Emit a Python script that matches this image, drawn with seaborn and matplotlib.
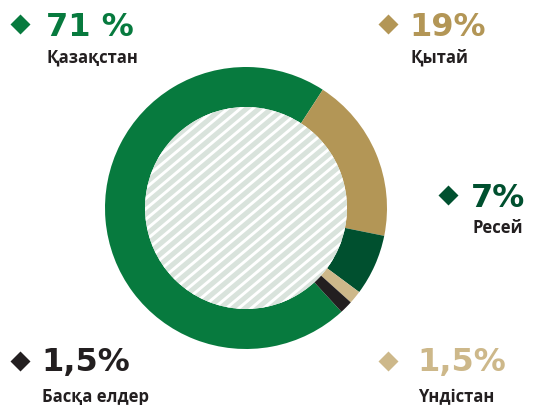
import numpy as np
import matplotlib
matplotlib.use("Agg")
import matplotlib.pyplot as plt
from matplotlib.patches import Circle
import seaborn as sns

# Data
countries = ["Қазақстан", "Қытай", "Ресей", "Үндістан", "Басқа елдер"]
shares = [71, 19, 7, 1.5, 1.5]
share_labels = ["71 %", "19%", "7%", "1,5%", "1,5%"]
colors = ["#077a3e", "#b39656", "#00502f", "#cdb88a", "#231f20"]

sns.set_theme(style="white")
plt.rcParams["font.family"] = ["Open Sans", "Noto Sans", "DejaVu Sans"]

W, H = 539, 405
fig = plt.figure(figsize=(W / 100, H / 100), dpi=100)

# donut: centre (246, 208) px, radius 141 px
cx, cy, r = 246, 208, 141
ax = fig.add_axes([(cx - r) / W, (H - cy - r) / H, 2 * r / W, 2 * r / H])
ax.pie(shares, colors=colors, startangle=-47.4, counterclock=False,
       radius=1, wedgeprops=dict(width=0.284, linewidth=0))
ax.set_xlim(-1, 1)
ax.set_ylim(-1, 1)
ax.axis("off")

# striped centre
inner = Circle((0, 0), 0.716, facecolor="#d9e3dc", edgecolor="none")
ax.add_patch(inner)
slope = np.tan(np.radians(40))
xs = np.array([-1.0, 1.0])
for c in np.arange(-2.0, 2.0, 0.074):
    ln, = ax.plot(xs, slope * xs + c, color="white", lw=2.1,
                  solid_capstyle="butt")
    ln.set_clip_path(inner)

# overlay in pixel coordinates for legend-like labels
ov = fig.add_axes([0, 0, 1, 1])
ov.set_xlim(0, W)
ov.set_ylim(H, 0)
ov.axis("off")
ov.patch.set_alpha(0)

# diamond x, diamond y, text x, pct baseline, label baseline
spots = [
    (20, 24, 46, 36, 63),
    (388, 24, 409, 36, 63),
    (448, 195, 471, 207, 233),
    (388, 361, 417, 371, 402),
    (20, 361, 41, 371, 402),
]
for (dx, dy, tx, py, ly), name, pct, col in zip(spots, countries, share_labels, colors):
    ov.plot(dx, dy, marker="D", ms=10, color=col, mec="none")
    ov.text(tx, py, pct, color=col, fontsize=23, fontweight="bold",
            family=["DejaVu Sans"], va="baseline", ha="left")
    ov.text(tx + 1, ly, name, color="#231f20", fontsize=12, fontweight="bold",
            va="baseline", ha="left")

fig.savefig("out.png", dpi=100)
